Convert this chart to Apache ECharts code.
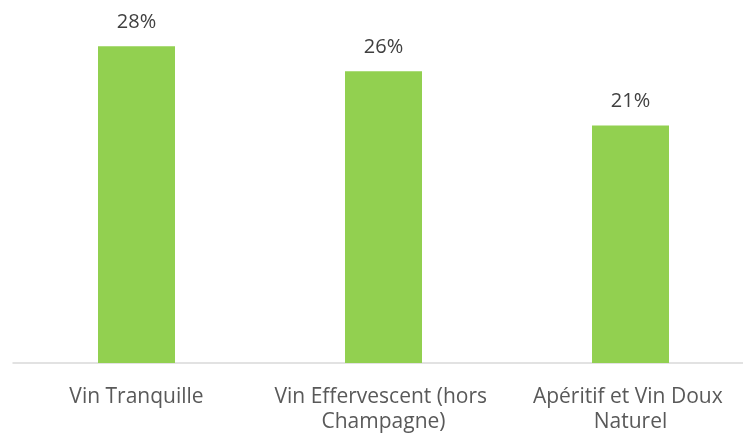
<!DOCTYPE html>
<html><head><meta charset="utf-8">
<script src="https://cdn.jsdelivr.net/npm/echarts@6/dist/echarts.min.js"></script>
<style>html,body{margin:0;padding:0;background:#fff}#c{width:743px;height:434px}</style>
</head><body><div id="c"></div>
<script>
const categories = ['Vin Tranquille', 'Vin Effervescent (hors Champagne)', 'Apéritif et Vin Doux Naturel'];
const values = [28, 25.8, 21];
const labels = ['28%', '26%', '21%'];
const chart = echarts.init(document.getElementById('c'));
chart.setOption({
  animation: false,
  grid: {left: 13, width: 741, top: 1, height: 362, containLabel: false, outerBoundsMode: 'none'},
  xAxis: {
    type: 'category', data: categories,
    axisLine: {lineStyle: {color: '#D9D9D9', width: 1.5}},
    axisTick: {show: false},
    axisLabel: {color: '#595959', fontSize: 21, fontFamily: 'Open Sans', margin: 22, lineHeight: 25, width: 232, overflow: 'break', interval: 0}
  },
  yAxis: {type: 'value', min: 0, max: 32, show: false, splitLine: {show: false}},
  series: [{
    type: 'bar', data: values, barWidth: 77,
    itemStyle: {color: '#92D050'},
    label: {show: true, position: 'top', distance: 14, color: '#404040', fontSize: 20, fontFamily: 'Open Sans',
      formatter: p => labels[p.dataIndex]}
  }]
});
</script></body></html>
